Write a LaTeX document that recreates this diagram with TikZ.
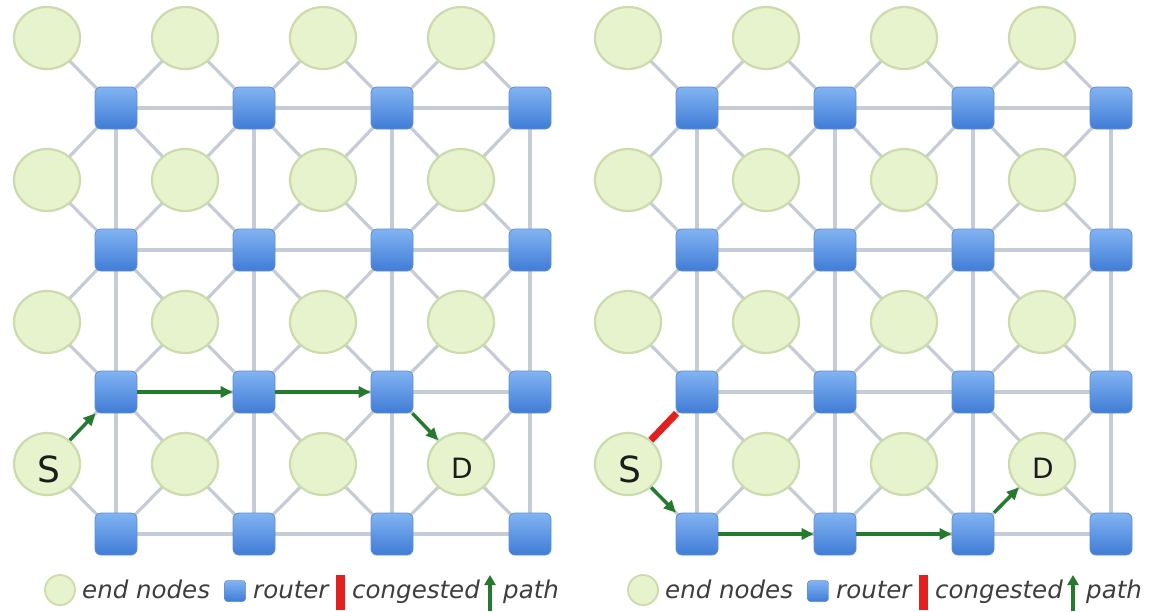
\documentclass[tikz,border=0pt]{standalone}
\usepackage{fontspec}
\setmainfont{DejaVu Sans}
\usetikzlibrary{arrows.meta,shapes.geometric,backgrounds}

\definecolor{linkgray}{RGB}{198,204,214}
\definecolor{nodefill}{RGB}{231,243,204}
\definecolor{nodeedge}{RGB}{203,219,172}
\definecolor{routertop}{RGB}{130,180,243}
\definecolor{routerbot}{RGB}{64,124,214}
\definecolor{routeredge}{RGB}{96,142,206}
\definecolor{pathgreen}{RGB}{38,122,46}
\definecolor{congred}{RGB}{226,32,32}
\definecolor{legendtext}{RGB}{62,62,62}
\definecolor{labeltext}{RGB}{28,28,28}

\tikzset{
  endnode/.style={ellipse, minimum width=66pt, minimum height=62pt, inner sep=0pt,
    draw=nodeedge, line width=2.2pt, fill=nodefill},
  router/.style={rectangle, rounded corners=6pt, minimum size=42pt, inner sep=0pt,
    draw=routeredge, line width=0.8pt, top color=routertop, bottom color=routerbot},
  link/.style={draw=linkgray, line width=3.2pt},
  pathedge/.style={draw=pathgreen, line width=3.4pt,
    -{Triangle[length=12pt,width=11pt]}},
  congested/.style={draw=congred, line width=7pt},
  legtext/.style={anchor=base west, inner sep=0pt, text=legendtext,
    font=\fontsize{24.5}{28}\selectfont\itshape},
  endlabel/.style={inner sep=0pt, text=labeltext}
}

\begin{document}
\begin{tikzpicture}[x=1pt, y=-1pt]
\useasboundingbox (0,0) rectangle (1151,611);

% two copies of the 4x4 mesh: routers on the grid, end nodes between them
\foreach \p/\ox in {L/0, R/581} {
  \foreach \i in {1,...,4} {
    \foreach \j in {1,...,4} {
      \node[router] (\p r\i\j) at ({\ox+116+138*(\j-1)}, {108+142*(\i-1)}) {};
      \node[endnode] (\p e\i\j) at ({\ox+47+138*(\j-1)}, {38+142*(\i-1)}) {};
    }
  }
}

% white page and mesh links behind the nodes
\begin{pgfonlayer}{background}
\fill[white] (0,0) rectangle (1151,611);
\foreach \p in {L,R} {
  \foreach \i in {1,...,4} {
    \foreach \j in {1,2,3} {
      \pgfmathtruncatemacro\k{\j+1}
      \draw[link] (\p r\i\j.center) -- (\p r\i\k.center);
      \draw[link] (\p r\j\i.center) -- (\p r\k\i.center);
    }
  }
  \foreach \i in {1,...,4} {
    \foreach \j in {1,...,4} {
      \pgfmathtruncatemacro\ii{\i-1}
      \pgfmathtruncatemacro\jj{\j-1}
      \draw[link] (\p e\i\j.center) -- (\p r\i\j.center);
      \ifnum\j>1 \draw[link] (\p e\i\j.center) -- (\p r\i\jj.center); \fi
      \ifnum\i>1 \draw[link] (\p e\i\j.center) -- (\p r\ii\j.center); \fi
      \ifnum\i>1 \ifnum\j>1 \draw[link] (\p e\i\j.center) -- (\p r\ii\jj.center); \fi\fi
    }
  }
}
\end{pgfonlayer}

% source and destination labels
\node[endlabel, font=\fontsize{36}{40}\selectfont] (LS) at (48.5,469) {S};
\node[endlabel, font=\fontsize{28}{32}\selectfont] (LD) at (462,468) {D};
\node[endlabel, font=\fontsize{36}{40}\selectfont] (RS) at (629.5,469) {S};
\node[endlabel, font=\fontsize{28}{32}\selectfont] (RD) at (1043,468) {D};

% left: route across the third router row
\draw[pathedge] (Le41) -- (Lr31);
\draw[pathedge] (Lr31) -- (Lr32);
\draw[pathedge] (Lr32) -- (Lr33);
\draw[pathedge] (Lr33) -- (Le44);

% right: congested link forces the route along the bottom row
\draw[congested] (Re41) -- (Rr31);
\draw[pathedge] (Re41) -- (Rr41);
\draw[pathedge] (Rr41) -- (Rr42);
\draw[pathedge] (Rr42) -- (Rr43);
\draw[pathedge] (Rr43) -- (Re44);

% legends
\foreach \p/\lx in {L/0, R/583} {
  \node[endnode, minimum width=30pt, minimum height=30pt, line width=1.8pt]
    (\p legE) at (\lx+60,590) {};
  \node[legtext] (\p legEt) at (\lx+82,598) {end nodes};
  \node[router, minimum size=21pt, rounded corners=3pt, line width=0.5pt]
    (\p legR) at (\lx+235,591) {};
  \node[legtext] (\p legRt) at (\lx+253,598) {router};
  \node[fill=congred, minimum width=9pt, minimum height=35pt, inner sep=0pt]
    (\p legC) at (\lx+340.5,592.5) {};
  \node[legtext] (\p legCt) at (\lx+352,598) {congested};
  \coordinate (\p legPa) at (\lx+490,611);
  \coordinate (\p legPb) at (\lx+490,575);
  \draw[draw=pathgreen, line width=3.6pt, -{Triangle[length=10pt,width=11pt]}]
    (\p legPa) -- (\p legPb);
  \node[legtext] (\p legPt) at (\lx+503,598) {path};
}
\end{tikzpicture}
\end{document}
